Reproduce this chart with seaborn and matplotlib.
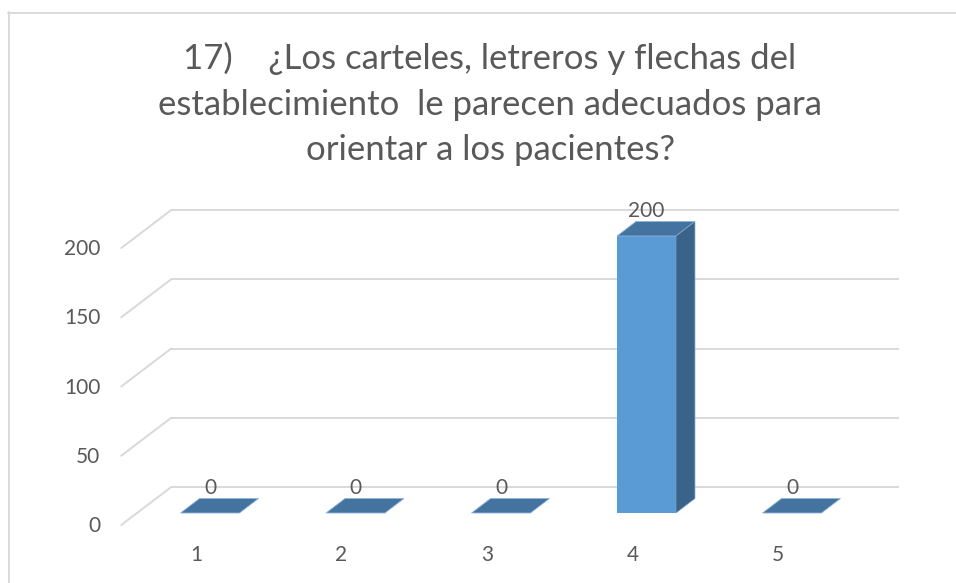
import numpy as np
import pandas as pd
import matplotlib
matplotlib.use("Agg")
import matplotlib.pyplot as plt
import seaborn as sns
from matplotlib.transforms import Affine2D, IdentityTransform
from matplotlib.patches import Polygon
from matplotlib.lines import Line2D

# ---- data ----
categories = ["1", "2", "3", "4", "5"]
values = [0, 0, 0, 200, 0]
y_ticks = [0, 50, 100, 150, 200]
title_lines = [
    "17)    ¿Los carteles, letreros y flechas del",
    "establecimiento  le parecen adecuados para",
    "orientar a los pacientes?",
]

# ---- style ----
sns.set_theme(style="white")
plt.rcParams['font.family'] = ['Lato', 'DejaVu Sans']

TEXT = "#595959"
GRID = "#D9D9D9"
FRONT_C = "#5B9BD5"
TOP_C = "#4473A0"
SIDE_C = "#3A6389"

W, H, DPI = 956, 583, 100
fig = plt.figure(figsize=(W / DPI, H / DPI), dpi=DPI)
fig.patch.set_facecolor("white")


def fx(px):
    return px / W


def fy(py):
    return (H - py) / H


ax = fig.add_axes([fx(137.25), fy(513), fx(864.75) - fx(137.25), fy(236) - fy(513)])
df = pd.DataFrame({"cat": categories, "val": values})
sns.barplot(data=df, x="cat", y="val", order=categories, ax=ax, width=0.405,
            color=FRONT_C, saturation=1, edgecolor="none", linewidth=0, zorder=3)
ax.set_xlim(-0.5, 4.5)
ax.set_ylim(0, 200)
ax.axis("off")

# pseudo-3D geometry (pixel offsets relative to bar front plane)
FRONT = (-16, -12)
BACK = (34, 26)
BAR_D = np.array([19, 14.5])


def shift(dx, dy):
    return ax.transData + Affine2D().translate(dx, dy)


T = ax.transData
FS = 15

# back wall gridlines and left-wall diagonals
for v in y_ticks:
    ax.plot([-0.5, 4.5], [v, v], transform=shift(*BACK), color=GRID, lw=1.4,
            clip_on=False, zorder=0, solid_capstyle="butt")
    p = T.transform((-0.5, v))
    fig.add_artist(Line2D([p[0] + FRONT[0], p[0] + BACK[0]],
                          [p[1] + FRONT[1], p[1] + BACK[1]],
                          transform=IdentityTransform(), color=GRID, lw=1.4, zorder=0))
    ax.text(-0.5, v, str(v), transform=shift(FRONT[0] - 21, FRONT[1] - 1),
            ha="right", va="center", fontsize=FS, color=TEXT, clip_on=False)

# side and top faces of bars
for patch in ax.patches:
    x0, w, h = patch.get_x(), patch.get_width(), patch.get_height()
    p_tl = T.transform((x0, h))
    p_tr = T.transform((x0 + w, h))
    p_br = T.transform((x0 + w, 0))
    top = [p_tl, p_tr, p_tr + BAR_D, p_tl + BAR_D]
    fig.add_artist(Polygon(top, closed=True, transform=IdentityTransform(),
                           facecolor=TOP_C, edgecolor="#8DB4DE", lw=0.6, zorder=4))
    if h > 0:
        side = [p_tr, p_br, p_br + BAR_D, p_tr + BAR_D]
        fig.add_artist(Polygon(side, closed=True, transform=IdentityTransform(),
                               facecolor=SIDE_C, edgecolor="#7FA6CF", lw=0.5, zorder=4))

# category labels and data labels
for i, (c, v) in enumerate(zip(categories, values)):
    ax.text(i, 0, c, transform=shift(-14, -42), ha="center", va="center",
            fontsize=FS, color=TEXT, clip_on=False)
    ax.text(i, v, str(v), transform=shift(0, 25), ha="center", va="center",
            fontsize=FS, color=TEXT, clip_on=False, zorder=6)

# title
fig.text(fx(490), fy(104), "\n".join(title_lines), ha="center", va="center",
         fontsize=25, color=TEXT, linespacing=1.52)

# chart border (left and top edges visible)
fig.add_artist(Line2D([fx(8.5), fx(8.5)], [fy(12), 0], transform=fig.transFigure,
                      color=GRID, lw=1.4))
fig.add_artist(Line2D([fx(8), 1], [fy(12.5), fy(12.5)], transform=fig.transFigure,
                      color=GRID, lw=1.4))

fig.savefig("out.png", dpi=DPI)
